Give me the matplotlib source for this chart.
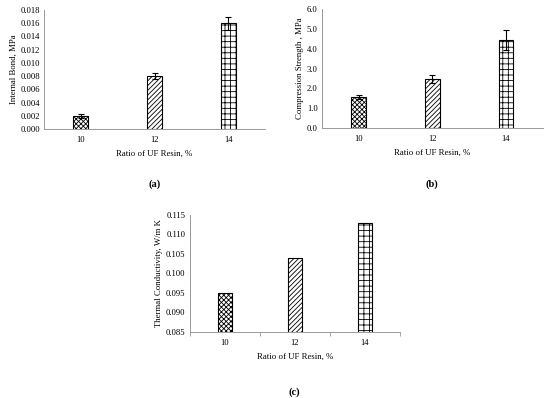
import matplotlib
matplotlib.use("Agg")
from matplotlib import pyplot as plt

plt.rcParams['font.family'] = ['Liberation Serif', 'DejaVu Serif']
plt.rcParams['hatch.linewidth'] = 0.6

ratios = ['10', '12', '14']
hatches = ['xxxxxxx', '///////', '+++']

ib = [0.002, 0.008, 0.016]
ib_err = [0.0003, 0.0005, 0.001]
cs = [1.55, 2.5, 4.45]
cs_err = [0.1, 0.2, 0.5]
tc = [0.095, 0.104, 0.113]

fig = plt.figure(figsize=(5.5, 3.98), dpi=100)

def panel(rect, vals, err, ylim, yticks, fmt, ylabel, tag, tag_y, minor=False):
    ax = fig.add_axes(rect)
    x = range(len(ratios))
    base = ylim[0]
    for i, v in enumerate(vals):
        ax.bar(i, v - base, bottom=base, width=0.2, color='white',
               edgecolor='black', linewidth=0.8, hatch=hatches[i], zorder=2)
    if err is not None:
        ax.errorbar(list(x), vals, yerr=err, fmt='none', ecolor='black',
                    elinewidth=0.8, capsize=2, capthick=0.8, zorder=3)
    ax.set_xlim(-0.5, 2.5)
    ax.set_ylim(*ylim)
    ax.set_yticks(yticks)
    ax.set_yticklabels([fmt.format(t) for t in yticks])
    ax.set_xticks(list(x))
    ax.set_xticklabels(ratios)
    if minor:
        ax.set_xticks([-0.5, 0.5, 1.5, 2.5], minor=True)
        ax.tick_params(axis='x', which='minor', length=3, color='#999999', width=0.6)
    ax.tick_params(axis='both', which='major', length=0, labelsize=6.2, pad=3)
    ax.tick_params(axis='x', which='major', pad=5)
    for s in ['top', 'right']:
        ax.spines[s].set_visible(False)
    for s in ['left', 'bottom']:
        ax.spines[s].set_color('#999999')
        ax.spines[s].set_linewidth(0.7)
    ax.set_ylabel(ylabel, fontsize=6.3, labelpad=2)
    ax.set_xlabel('Ratio of UF Resin, %', fontsize=6.3, labelpad=4)
    cx = rect[0] + rect[2] / 2
    fig.text(cx, tag_y, tag, fontsize=7.5, fontweight='bold', ha='center', va='center')
    return ax

panel([0.08, 0.676, 0.402, 0.299], ib, ib_err, (0, 0.018),
      [i * 0.002 for i in range(10)], '{:.3f}', 'Internal Bond, MPa', '(a)', 1 - 184 / 398)
panel([0.585, 0.678, 0.402, 0.299], cs, cs_err, (0, 6.0),
      [i * 1.0 for i in range(7)], '{:.1f}', 'Compression Strength , MPa', '(b)', 1 - 184 / 398)
panel([0.345, 0.166, 0.382, 0.294], tc, None, (0.085, 0.115),
      [0.085 + i * 0.005 for i in range(7)], '{:.3f}', 'Thermal Conductivity, W/m K', '(c)',
      1 - 392 / 398, minor=True)

plt.savefig("out.png", dpi=100)
